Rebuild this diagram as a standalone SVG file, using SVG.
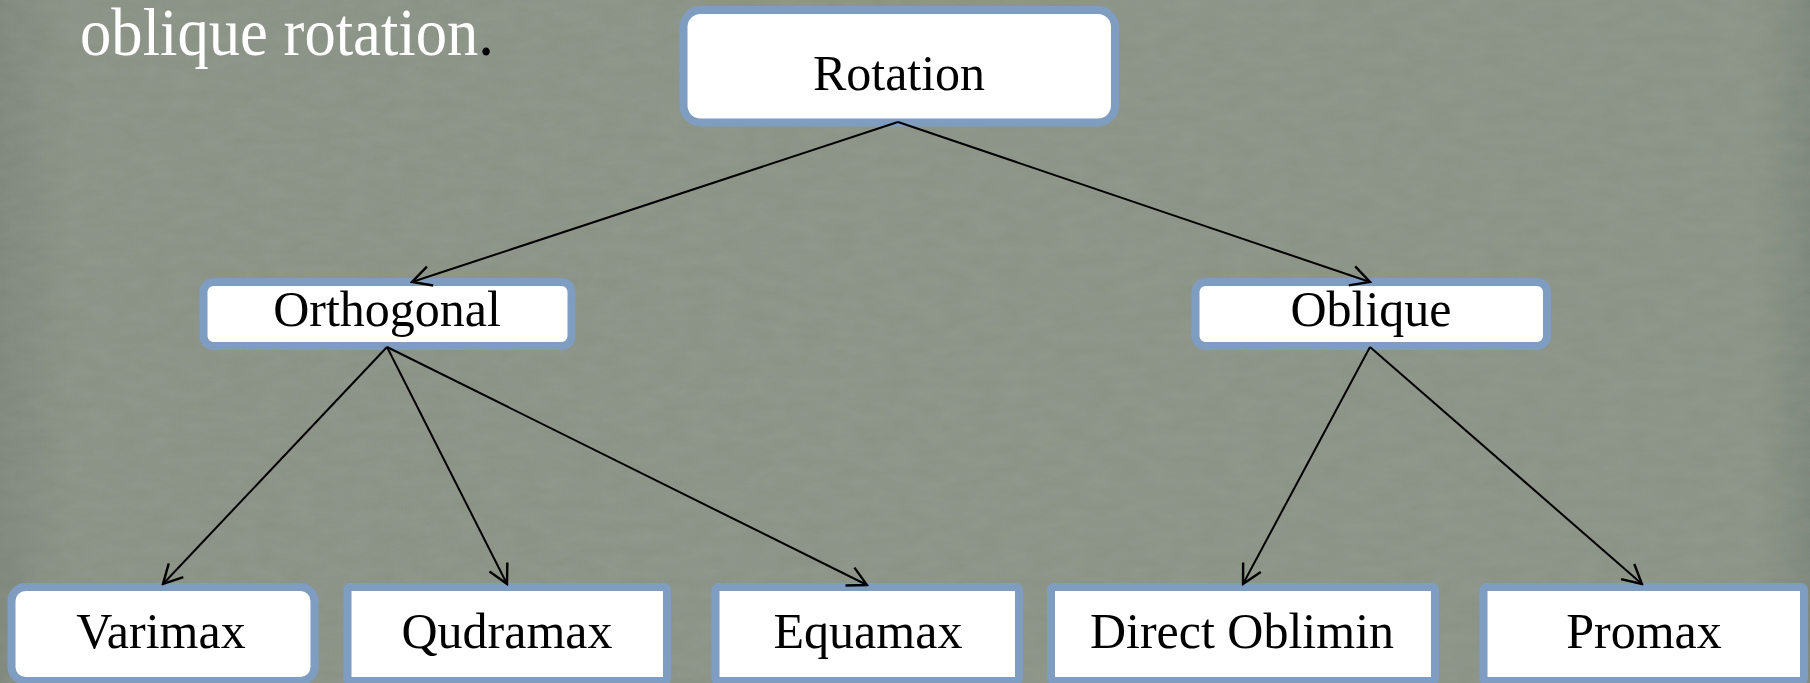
<svg xmlns="http://www.w3.org/2000/svg" width="1810" height="683" viewBox="0 0 1810 683">
  <defs>
    <style>
      .box { fill: #ffffff; stroke: #7f9dc1; stroke-width: 8; }
      .lbl { font-family: "Liberation Serif", "Times New Roman", serif; font-size: 50px; fill: #000000; text-anchor: middle; }
      .edge { fill: none; stroke: #000000; stroke-width: 2; marker-end: url(#chev); }
    </style>
    <marker id="chev" viewBox="0 0 24 24" refX="22" refY="12" markerWidth="24" markerHeight="24" markerUnits="userSpaceOnUse" orient="auto">
      <path d="M3,2 L22,12 L3,22" fill="none" stroke="#000000" stroke-width="2.4" stroke-linejoin="miter"/>
    </marker>
    <linearGradient id="bg" x1="0" y1="0" x2="1" y2="0">
      <stop offset="0" stop-color="#7f877c"/>
      <stop offset="0.04" stop-color="#8a9286"/>
      <stop offset="0.5" stop-color="#8b9387"/>
      <stop offset="0.97" stop-color="#8a9386"/>
      <stop offset="1" stop-color="#7e877b"/>
    </linearGradient>
    <filter id="grain" x="0" y="0" width="100%" height="100%">
      <feTurbulence type="fractalNoise" baseFrequency="0.035 0.09" numOctaves="3" seed="7"/>
      <feColorMatrix type="matrix" values="0 0 0 0 0.45  0 0 0 0 0.48  0 0 0 0 0.43  0 0 0 0.35 -0.05"/>
    </filter>
  </defs>

  <!-- backdrop -->
  <rect x="0" y="0" width="1810" height="683" fill="url(#bg)"/>
  <rect x="0" y="0" width="1810" height="683" filter="url(#grain)" opacity="0.5"/>

  <!-- heading fragment, white words with a dark full stop -->
  <text x="80" y="55" font-family="Liberation Serif, serif" font-size="67" fill="#ffffff" textLength="414" lengthAdjust="spacingAndGlyphs">oblique rotation<tspan fill="#000000">.</tspan></text>

  <g id="rotation">
    <rect class="box" x="683.5" y="10" width="431.5" height="112.5" rx="17"/>
    <text class="lbl" x="899" y="90">Rotation</text>
  </g>

  <g id="orthogonal">
    <rect class="box" x="203.5" y="282" width="368" height="64" rx="10"/>
    <text class="lbl" x="387" y="326">Orthogonal</text>
  </g>

  <g id="oblique">
    <rect class="box" x="1195.5" y="282" width="351.5" height="64" rx="10"/>
    <text class="lbl" x="1371" y="326">Oblique</text>
  </g>

  <g id="varimax">
    <rect class="box" x="11.5" y="587" width="303" height="94" rx="14"/>
    <text class="lbl" x="161" y="648">Varimax</text>
  </g>

  <g id="qudramax">
    <rect class="box" x="347.5" y="587" width="319.5" height="94" rx="3"/>
    <text class="lbl" x="507" y="648">Qudramax</text>
  </g>

  <g id="equamax">
    <rect class="box" x="715.5" y="587" width="303.5" height="94" rx="3"/>
    <text class="lbl" x="868" y="648">Equamax</text>
  </g>

  <g id="direct-oblimin">
    <rect class="box" x="1051" y="587" width="384" height="94" rx="3"/>
    <text class="lbl" x="1242" y="648">Direct Oblimin</text>
  </g>

  <g id="promax">
    <rect class="box" x="1483.5" y="587" width="320.5" height="94" rx="3"/>
    <text class="lbl" x="1644" y="648">Promax</text>
  </g>

  <!-- connectors, drawn over the box borders -->
  <g id="connectors">
    <line class="edge" x1="898" y1="122" x2="412" y2="282"/>
    <line class="edge" x1="898" y1="122" x2="1370" y2="282"/>
    <line class="edge" x1="387" y1="347" x2="163" y2="584"/>
    <line class="edge" x1="387" y1="347" x2="507" y2="584"/>
    <line class="edge" x1="387" y1="347" x2="867" y2="585"/>
    <line class="edge" x1="1370" y1="347" x2="1243" y2="584"/>
    <line class="edge" x1="1370" y1="347" x2="1642" y2="584"/>
  </g>
</svg>
